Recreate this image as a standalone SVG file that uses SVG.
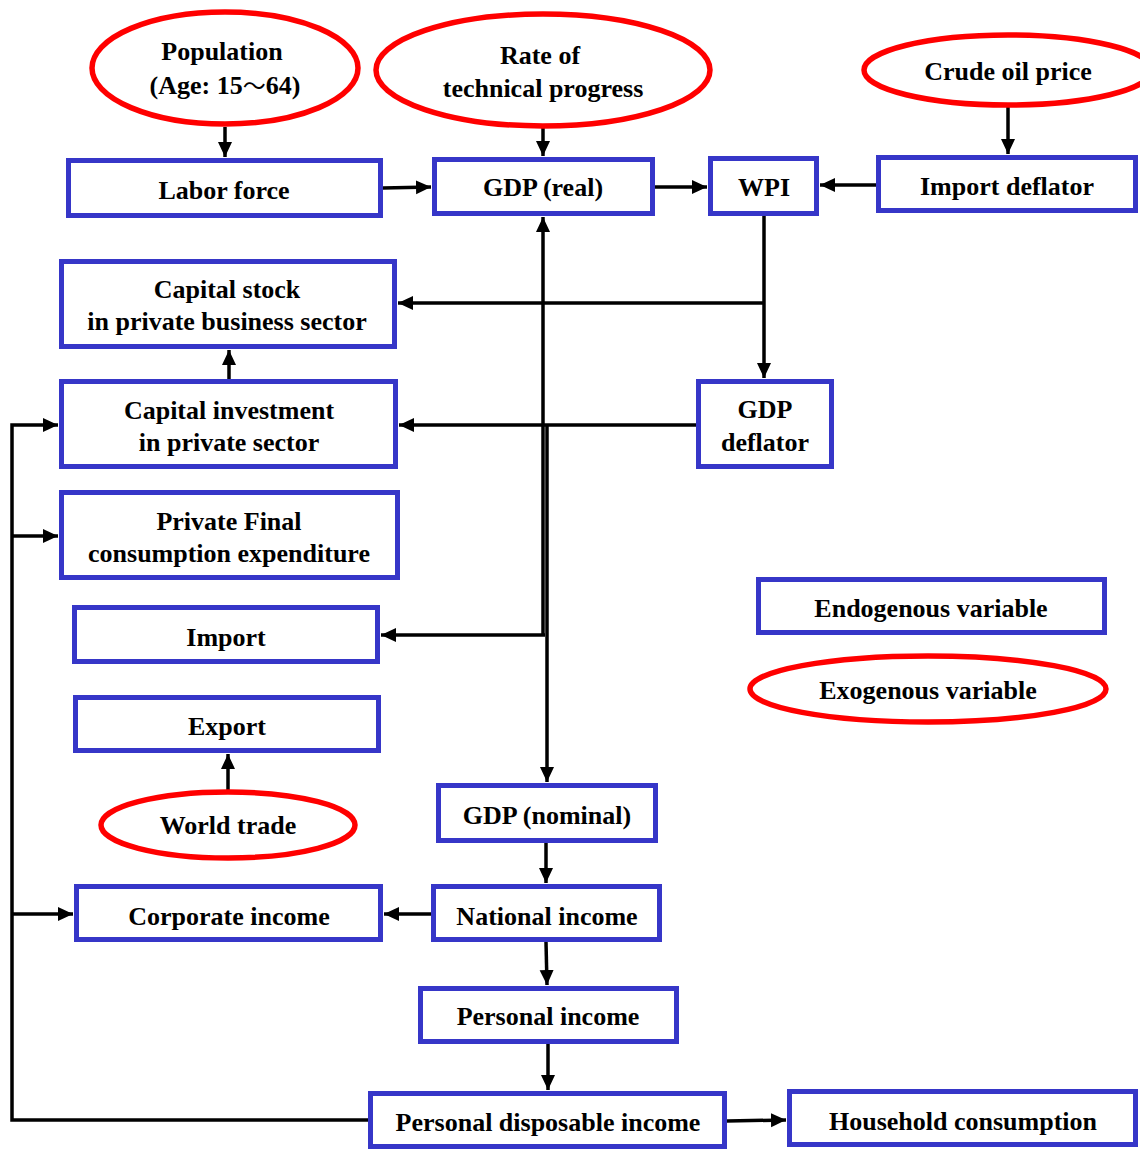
<svg xmlns="http://www.w3.org/2000/svg" width="1140" height="1149" viewBox="0 0 1140 1149">
<style>
.box{fill:#fff;stroke:#3636c8;stroke-width:5}
.ell{fill:#fff;stroke:#ff0000;stroke-width:5.5}
.t{font-family:"Liberation Serif","Times New Roman",serif;font-weight:bold;font-size:26px;fill:#000;text-anchor:middle}
.cjk{font-family:"Noto Sans CJK JP","Noto Sans CJK SC",sans-serif;font-weight:normal;font-size:23px}
.c{fill:none;stroke:#000;stroke-width:3.5}
.a{marker-end:url(#ah)}
</style>
<defs>
<marker id="ah" markerUnits="userSpaceOnUse" markerWidth="16" markerHeight="16" viewBox="0 0 16 16" refX="15" refY="8" orient="auto">
<path d="M0,1 L15,8 L0,15 Z" fill="#000"/>
</marker>
</defs>
<rect width="1140" height="1149" fill="#fff"/>
<g id="connectors">
<path class="c a" d="M225,127 V157"/>
<path class="c a" d="M543,128 V156"/>
<path class="c a" d="M1008,107 V154"/>
<path class="c a" d="M383,188 L431,187"/>
<path class="c a" d="M655,187 H707"/>
<path class="c a" d="M876,185 H820"/>
<path class="c a" d="M764,216 V378"/>
<path class="c a" d="M764,303 H398"/>
<path class="c a" d="M696,425 H399"/>
<path class="c a" d="M543,636 V217"/>
<path class="c a" d="M545,635 H381"/>
<path class="c a" d="M547,425 V782"/>
<path class="c a" d="M229,379 V350"/>
<path class="c a" d="M228,790 V754"/>
<path class="c a" d="M546,843 V883"/>
<path class="c a" d="M431,914 H384"/>
<path class="c a" d="M546,942 L547,985"/>
<path class="c a" d="M548,1044 V1090"/>
<path class="c a" d="M727,1121 L786,1120"/>
<path class="c a" d="M368,1120 H12 V425 H58"/>
<path class="c a" d="M12,536 H58"/>
<path class="c a" d="M12,914 H73"/>
</g>
<g id="population"><ellipse class="ell" cx="225" cy="68" rx="133" ry="56"/><text class="t" x="222" y="60">Population</text><text class="t" x="225" y="94">(Age: 15<tspan class="cjk">～</tspan>64)</text></g>
<g id="rate"><ellipse class="ell" cx="543" cy="70" rx="167" ry="56"/><text class="t" x="540" y="64">Rate of</text><text class="t" x="543" y="97">technical progress</text></g>
<g id="crude"><ellipse class="ell" cx="1008" cy="70" rx="144" ry="35"/><text class="t" x="1008" y="80">Crude oil price</text></g>
<g id="labor"><rect class="box" x="68.5" y="160.5" width="312" height="55"/><text class="t" x="224" y="199">Labor force</text></g>
<g id="gdpreal"><rect class="box" x="434.5" y="159.5" width="218" height="54"/><text class="t" x="543" y="196">GDP (real)</text></g>
<g id="wpi"><rect class="box" x="710.5" y="158.5" width="106" height="55"/><text class="t" x="764" y="196">WPI</text></g>
<g id="importdefl"><rect class="box" x="878.5" y="157.5" width="257" height="53"/><text class="t" x="1007" y="195">Import deflator</text></g>
<g id="capstock"><rect class="box" x="61.5" y="261.5" width="333" height="85"/><text class="t" x="227" y="298">Capital stock</text><text class="t" x="227" y="330">in private business sector</text></g>
<g id="capinv"><rect class="box" x="61.5" y="381.5" width="334" height="85"/><text class="t" x="229" y="419">Capital investment</text><text class="t" x="229" y="451">in private sector</text></g>
<g id="gdpdefl"><rect class="box" x="698.5" y="381.5" width="133" height="85"/><text class="t" x="765" y="418">GDP</text><text class="t" x="765" y="451">deflator</text></g>
<g id="pfce"><rect class="box" x="61.5" y="492.5" width="336" height="85"/><text class="t" x="229" y="530">Private Final</text><text class="t" x="229" y="562">consumption expenditure</text></g>
<g id="import"><rect class="box" x="74.5" y="607.5" width="303" height="54"/><text class="t" x="226" y="646">Import</text></g>
<g id="export"><rect class="box" x="75.5" y="697.5" width="303" height="53"/><text class="t" x="227" y="735">Export</text></g>
<g id="worldtrade"><ellipse class="ell" cx="228" cy="825" rx="127" ry="33"/><text class="t" x="228" y="834">World trade</text></g>
<g id="gdpnominal"><rect class="box" x="438.5" y="785.5" width="217" height="55"/><text class="t" x="547" y="824">GDP (nominal)</text></g>
<g id="corporate"><rect class="box" x="76.5" y="886.5" width="304" height="53"/><text class="t" x="229" y="925">Corporate income</text></g>
<g id="national"><rect class="box" x="433.5" y="886.5" width="226" height="53"/><text class="t" x="547" y="925">National income</text></g>
<g id="personal"><rect class="box" x="420.5" y="988.5" width="256" height="53"/><text class="t" x="548" y="1025">Personal income</text></g>
<g id="pdi"><rect class="box" x="370.5" y="1093.5" width="354" height="53"/><text class="t" x="548" y="1131">Personal disposable income</text></g>
<g id="household"><rect class="box" x="789.5" y="1091.5" width="346" height="53"/><text class="t" x="963" y="1130">Household consumption</text></g>
<g id="legend-endo"><rect class="box" x="758.5" y="579.5" width="346" height="53"/><text class="t" x="931" y="617">Endogenous variable</text></g>
<g id="legend-exo"><ellipse class="ell" cx="928" cy="689" rx="178" ry="33"/><text class="t" x="928" y="699">Exogenous variable</text></g>
</svg>
